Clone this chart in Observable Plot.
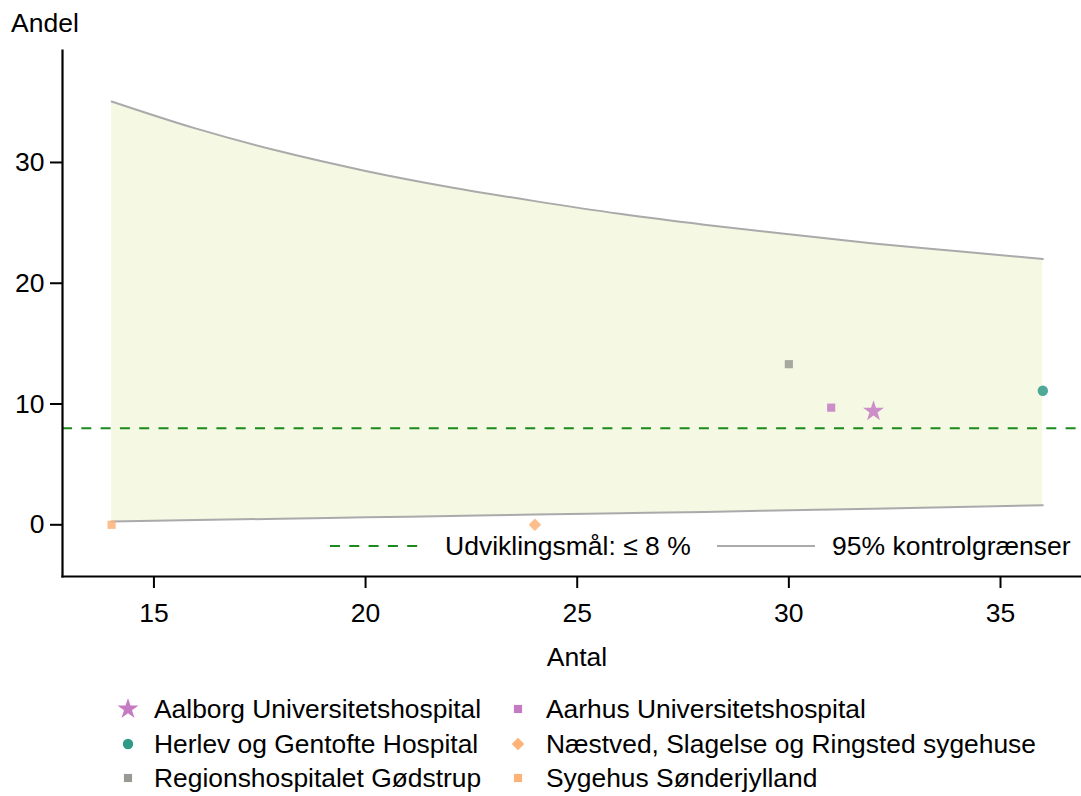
<!DOCTYPE html>
<html>
<head>
<meta charset="utf-8">
<script src="https://cdn.jsdelivr.net/npm/d3@7"></script>
<script src="https://cdn.jsdelivr.net/npm/@observablehq/plot@0.6"></script>
<style>
  html, body { margin: 0; padding: 0; background: #fff; }
  body { font-family: "Liberation Sans", Arial, sans-serif; color: #000; }
  #wrap { position: relative; width: 1081px; height: 796px; overflow: hidden; }
  .abs { position: absolute; white-space: nowrap; font-size: 26.5px; line-height: 26px; }
  #legend { position: absolute; left: 0; top: 688px; width: 1081px; }
  .item { position: absolute; white-space: nowrap; font-size: 26.4px; line-height: 26px; }
</style>
</head>
<body>
<div id="wrap"></div>
<script>
// ---- data ----
const hospitals = [
  "Aalborg Universitetshospital",
  "Aarhus Universitetshospital",
  "Herlev og Gentofte Hospital",
  "Næstved, Slagelse og Ringsted sygehuse",
  "Regionshospitalet Gødstrup",
  "Sygehus Sønderjylland"
];
const antal = [32, 31, 36, 24, 30, 14];
const andel = [9.4, 9.7, 11.1, 0, 13.3, 0];

const limitN     = [14, 16, 18, 20, 22, 24, 26, 28, 30, 32, 34, 36];
const limitUpper = [35.05, 32.8, 30.9, 29.3, 27.95, 26.8, 25.75, 24.85, 24.05, 23.3, 22.65, 22.0];
const limitLower = [0.27, 0.4, 0.5, 0.62, 0.73, 0.85, 0.96, 1.07, 1.2, 1.33, 1.47, 1.62];

const target = [8];
const xTicks = [15, 20, 25, 30, 35];
const yTicks = [0, 10, 20, 30];
const xDomain = [12.84, 36.89];
const yDomain = [-4.28, 39.27];

const targetLabel = "Udviklingsmål: ≤ 8 %";
const limitLabel = "95% kontrolgrænser";
const xLabel = "Antal";
const yLabel = "Andel";

// ---- styles ----
const styles = {
  "Aalborg Universitetshospital": {symbol: "star", color: "#c47bc4", r: 6.6},
  "Aarhus Universitetshospital": {symbol: "square", color: "#c47bc4", r: 4.6},
  "Herlev og Gentofte Hospital": {symbol: "circle", color: "#2f9a86", r: 5.2},
  "Næstved, Slagelse og Ringsted sygehuse": {symbol: "diamond2", color: "#fdb377", r: 5.6},
  "Regionshospitalet Gødstrup": {symbol: "square", color: "#9a9a94", r: 4.6},
  "Sygehus Sønderjylland": {symbol: "square", color: "#fdb377", r: 4.6}
};

const points = hospitals.map((h, i) => ({name: h, n: antal[i], pct: andel[i]}));
const limits = limitN.map((n, i) => ({n, upper: limitUpper[i], lower: limitLower[i]}));

const FONT = '"Liberation Sans", Arial, sans-serif';

const chart = Plot.plot({
  width: 1081,
  height: 690,
  marginTop: 50,
  marginLeft: 62,
  marginRight: 1,
  marginBottom: 114,
  style: {fontFamily: FONT, background: "transparent"},
  x: {domain: xDomain},
  y: {domain: yDomain},
  marks: [
    Plot.areaY(limits, {x: "n", y1: "lower", y2: "upper", fill: "#f5f8e3", curve: "monotone-x"}),
    Plot.lineY(limits, {x: "n", y: "upper", stroke: "#aaaaaa", strokeWidth: 2, curve: "monotone-x"}),
    Plot.lineY(limits, {x: "n", y: "lower", stroke: "#aaaaaa", strokeWidth: 2, curve: "monotone-x"}),
    Plot.ruleY(target, {stroke: "#1a8a1a", strokeWidth: 2, strokeDasharray: "10,9.3"}),
    ...points.map(p => Plot.dot([p], {
      x: "n", y: "pct",
      symbol: styles[p.name].symbol,
      fill: styles[p.name].color,
      fillOpacity: 0.85,
      r: styles[p.name].r
    })),
    Plot.axisX({ticks: xTicks, tickSize: 12, tickPadding: 15, strokeWidth: 2, fontSize: 26.5, label: null}),
    Plot.axisY({ticks: yTicks, tickSize: 12, tickPadding: 6, strokeWidth: 2, fontSize: 26.5, label: null}),
    Plot.frame({anchor: "left", strokeWidth: 2.2}),
    Plot.frame({anchor: "bottom", strokeWidth: 2.2})
  ]
});

const wrap = document.getElementById("wrap");
wrap.appendChild(chart);

function addText(txt, left, top, extra) {
  const d = document.createElement("div");
  d.className = "abs";
  d.textContent = txt;
  d.style.left = left + "px";
  d.style.top = top + "px";
  if (extra) Object.assign(d.style, extra);
  wrap.appendChild(d);
  return d;
}

// axis titles
addText(yLabel, 11, 10);
addText(xLabel, 577, 644, {transform: "translateX(-50%)"});

// in-plot legend (lines)
function lineSvg(x1, x2, y, stroke, dash) {
  const ns = "http://www.w3.org/2000/svg";
  const s = document.createElementNS(ns, "svg");
  s.setAttribute("width", 1081);
  s.setAttribute("height", 796);
  s.style.position = "absolute";
  s.style.left = "0px";
  s.style.top = "0px";
  s.style.pointerEvents = "none";
  const l = document.createElementNS(ns, "line");
  l.setAttribute("x1", x1); l.setAttribute("x2", x2);
  l.setAttribute("y1", y); l.setAttribute("y2", y);
  l.setAttribute("stroke", stroke);
  l.setAttribute("stroke-width", 2);
  if (dash) l.setAttribute("stroke-dasharray", dash);
  s.appendChild(l);
  wrap.appendChild(s);
}
lineSvg(330, 420, 546, "#1a8a1a", "10,9.3");
addText(targetLabel, 445, 533);
lineSvg(717, 815, 546, "#aaaaaa", null);
addText(limitLabel, 832, 533);

// bottom legend
const legend = document.createElement("div");
legend.id = "legend";
wrap.appendChild(legend);
const colX = [128, 518];
const textX = [154, 546];
const rowY = [21, 56, 90]; // centers relative to legend top
hospitals.forEach((h, i) => {
  const col = i % 2, row = Math.floor(i / 2);
  const st = styles[h];
  const ns = "http://www.w3.org/2000/svg";
  const s = document.createElementNS(ns, "svg");
  s.setAttribute("width", 30); s.setAttribute("height", 30);
  s.style.position = "absolute";
  s.style.left = (colX[col] - 15) + "px";
  s.style.top = (rowY[row] - 15) + "px";
  s.style.overflow = "visible";
  const path = document.createElementNS(ns, "path");
  const symMap = {star: d3.symbolStar, square: d3.symbolSquare, circle: d3.symbolCircle, diamond2: d3.symbolDiamond2};
  path.setAttribute("d", d3.symbol(symMap[st.symbol], Math.PI * st.r * st.r)());
  path.setAttribute("transform", "translate(15,15)");
  path.setAttribute("fill", st.color);
  s.appendChild(path);
  legend.appendChild(s);
  const t = document.createElement("div");
  t.className = "item";
  t.textContent = h;
  t.style.left = textX[col] + "px";
  t.style.top = (rowY[row] - 13) + "px";
  legend.appendChild(t);
});
</script>
</body>
</html>
